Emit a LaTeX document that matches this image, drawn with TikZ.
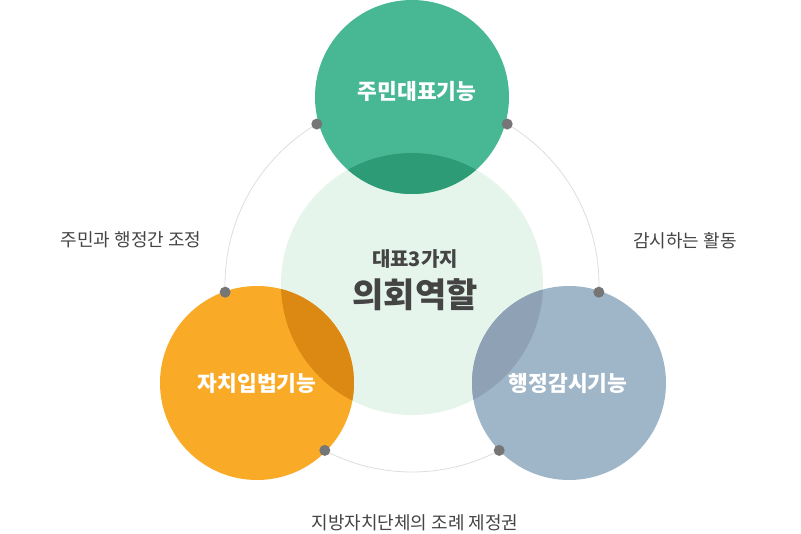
\documentclass[tikz,border=0pt]{standalone}
\usepackage{fontspec}
\newfontfamily\kr{Noto Sans CJK KR}
\definecolor{cgreen}{HTML}{48B894}
\definecolor{cgreenov}{HTML}{2E9B77}
\definecolor{clight}{HTML}{E5F5EC}
\definecolor{corange}{HTML}{F9AB28}
\definecolor{corangeov}{HTML}{DB8913}
\definecolor{cblue}{HTML}{9FB5C8}
\definecolor{cblueov}{HTML}{8FA1B5}
\definecolor{ctext}{HTML}{444444}
\definecolor{cring}{HTML}{DDDDDD}
\definecolor{cdot}{HTML}{767676}
\tikzset{
  x=1pt,y=-1pt,
  ringc/.style={circle,draw=cring,line width=0.8pt,minimum size=374pt,inner sep=0pt},
  bigc/.style={circle,fill=#1,minimum size=194pt,inner sep=0pt},
  dotc/.style={circle,fill=cdot,minimum size=11pt,inner sep=0pt},
  wlabel/.style={text=white,font=\kr\bfseries\fontsize{21.5}{24}\selectfont},
  slabel/.style={text=ctext,font=\kr\fontsize{18}{20}\selectfont},
}
\begin{document}
\begin{tikzpicture}
\useasboundingbox (0,0) rectangle (801,534);
\node[ringc] (ring) at (412,285) {};
\node[circle,fill=clight,minimum size=262pt,inner sep=0pt] (center) at (412,284) {};
\node[bigc=cgreen] (top) at (412,97) {};
\node[bigc=corange] (left) at (257,383) {};
\node[bigc=cblue] (right) at (569,383) {};
\begin{scope}
  \clip (412,284) circle (131);
  \fill[cgreenov] (412,97) circle (97);
  \fill[corangeov] (257,383) circle (97);
  \fill[cblueov] (569,383) circle (97);
\end{scope}
\path (ring.center) ++(120.6:187pt) node[dotc] (d1) {};
\path (ring.center) ++(59.4:187pt) node[dotc] (d2) {};
\path (ring.center) ++(182.2:187pt) node[dotc] (d3) {};
\path (ring.center) ++(357.8:187pt) node[dotc] (d4) {};
\path (ring.center) ++(242.2:187pt) node[dotc] (d5) {};
\path (ring.center) ++(297.8:187pt) node[dotc] (d6) {};
\node[wlabel] (t1) at (417,91) {주민대표기능};
\node[wlabel] (t2) at (257,383) {자치입법기능};
\node[wlabel] (t3) at (568,383) {행정감시기능};
\node[text=ctext,font=\kr\bfseries\fontsize{20}{22}\selectfont] (c1) at (415,259) {대표3가지};
\node[text=ctext,font=\kr\bfseries\fontsize{34}{36}\selectfont] (c2) at (415,295) {의회역할};
\node[slabel] (s1) at (131,240) {주민과 행정간 조정};
\node[slabel] (s2) at (685,241) {감시하는 활동};
\node[slabel] (s3) at (415,523) {지방자치단체의 조례 제정권};
\end{tikzpicture}
\end{document}
